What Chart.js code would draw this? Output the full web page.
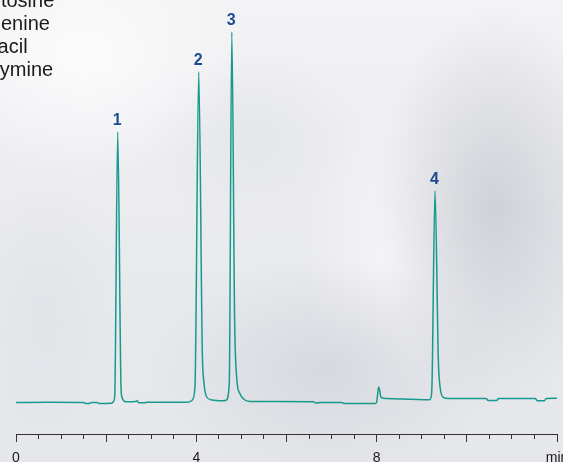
<!DOCTYPE html>
<html>
<head>
<meta charset="utf-8">
<script src="https://cdn.jsdelivr.net/npm/chart.js@4.4.1/dist/chart.umd.min.js"></script>
<style>
  html, body { margin: 0; padding: 0; }
  #wrap {
    position: relative; width: 563px; height: 462px; overflow: hidden;
    background:
      radial-gradient(ellipse 160px 120px at 15% 12%, rgba(252,252,253,0.95) 0%, rgba(252,252,253,0) 100%),
      radial-gradient(ellipse 120px 200px at 88% 45%, rgba(205,207,213,0.9) 0%, rgba(205,207,213,0) 100%),
      radial-gradient(ellipse 180px 110px at 58% 80%, rgba(212,214,220,0.85) 0%, rgba(212,214,220,0) 100%),
      radial-gradient(ellipse 110px 90px at 45% 30%, rgba(226,228,232,0.8) 0%, rgba(226,228,232,0) 100%),
      radial-gradient(ellipse 90px 160px at 70% 55%, rgba(246,246,248,0.9) 0%, rgba(246,246,248,0) 100%),
      radial-gradient(ellipse 80px 150px at 8% 70%, rgba(225,226,231,0.8) 0%, rgba(225,226,231,0) 100%),
      linear-gradient(180deg, #f3f3f5 0%, #e9eaee 55%, #e6e7eb 100%);
  }
  canvas { position: absolute; left: 0; top: 0; }
</style>
</head>
<body>
<div id="wrap"><canvas id="c" width="563" height="462"></canvas></div>
<script>
// ---- data (time in min, signal in arbitrary units above baseline) ----
const times = [0.00, 0.70, 1.50, 1.55, 1.62, 1.67, 1.80, 1.84, 2.12, 2.16, 2.19, 2.256, 2.33, 2.35, 2.385, 2.44,
  2.66, 2.69, 2.72, 2.86, 2.90, 3.80, 3.88, 3.91, 3.97, 4.053, 4.133, 4.17, 4.23, 4.34, 4.60,
  4.66, 4.73, 4.787, 4.85, 4.90, 4.96, 5.08, 5.20, 6.60, 6.66, 6.74, 7.22, 7.27, 7.97, 8.00,
  8.045, 8.10, 8.22, 9.17, 9.20, 9.225, 9.294, 9.368, 9.406, 9.48, 9.59, 10.43, 10.47, 10.66,
  10.70, 11.52, 11.56, 11.72, 11.76, 12.00];
const signal = [-0.5, -0.3, -0.5, -1.6, -1.6, -0.6, -0.6, -1.4, -1.2, 0.3, 6, 270, 14, 5, 1.5, 0.3,
  0.5, 1.2, -0.8, -0.8, -0.2, -0.2, 0.8, 2, 15, 330, 49, 19, 5, 2, 1.2,
  1.8, 18, 370, 80, 22, 9, 2, 0.5, 0.2, -1.2, -0.4, -0.4, -1.4, -1.4, 0,
  15, 4.5, 3.5, 2.3, 4, 14, 211, 42, 15, 4.7, 3.5, 3.4, 1.6, 1.6,
  3.4, 3.4, 1.3, 1.3, 3.4, 3.8];
const peakLabels = ['1', '2', '3', '4'];
const peakTimes = [2.256, 4.053, 4.787, 9.294];
const compounds = ['Cytosine', 'Adenine', 'Uracil', 'Thymine'];
const xLabelValues = [0, 4, 8, 12];
const xLabelTexts = ['0', '4', '8', 'min'];

const points = times.map((t, i) => ({ x: t, y: signal[i] }));
const FONT = '"Liberation Sans", Arial, Helvetica, sans-serif';

const annotate = {
  id: 'annotate',
  afterDatasetsDraw(chart) {
    const ctx = chart.ctx;
    const meta = chart.getDatasetMeta(0);
    ctx.save();
    // peak numbers
    ctx.font = 'bold 16px ' + FONT;
    ctx.fillStyle = '#1d4b8f';
    ctx.textAlign = 'center';
    ctx.textBaseline = 'alphabetic';
    peakTimes.forEach((t, k) => {
      let best = 0;
      times.forEach((tt, i) => { if (Math.abs(tt - t) < Math.abs(times[best] - t)) best = i; });
      const el = meta.data[best];
      ctx.fillText(peakLabels[k], el.x - 0.5, el.y - 7);
    });
    // compound list (partly outside the picture on the left)
    ctx.font = '20px ' + FONT;
    ctx.fillStyle = '#1a1a1a';
    ctx.textAlign = 'left';
    compounds.forEach((name, k) => ctx.fillText(name, -23.5, 7 + k * 23));
    ctx.restore();
  }
};

new Chart(document.getElementById('c'), {
  type: 'line',
  data: {
    datasets: [{
      data: points,
      borderColor: '#17998d',
      borderWidth: 1.5,
      pointRadius: 0,
      fill: false,
      cubicInterpolationMode: 'monotone'
    }]
  },
  options: {
    responsive: false,
    animation: false,
    layout: { padding: { left: 16, right: 6, top: 0, bottom: 0 } },
    plugins: { legend: { display: false }, tooltip: { enabled: false } },
    scales: {
      x: {
        type: 'linear', min: 0, max: 12,
        afterFit(scale) { scale.paddingLeft = 0; scale.paddingRight = 0; scale.height = 28; },
        ticks: {
          stepSize: 0.5, autoSkip: false, maxRotation: 0, padding: 8,
          color: '#1a1a1a', font: { size: 14, family: FONT },
          callback(v) { const i = xLabelValues.indexOf(v); return i >= 0 ? xLabelTexts[i] : ''; }
        },
        grid: {
          display: true, drawOnChartArea: false, drawTicks: true, tickLength: 8,
          tickColor: '#333', tickWidth: 1,
          tickBorderDash: (c) => (c.tick && c.tick.value % 2 !== 0) ? [4, 20] : []
        },
        border: { display: true, color: '#333', width: 1 }
      },
      y: { display: false, min: -32, max: 402 }
    }
  },
  plugins: [annotate]
});
</script>
</body>
</html>
